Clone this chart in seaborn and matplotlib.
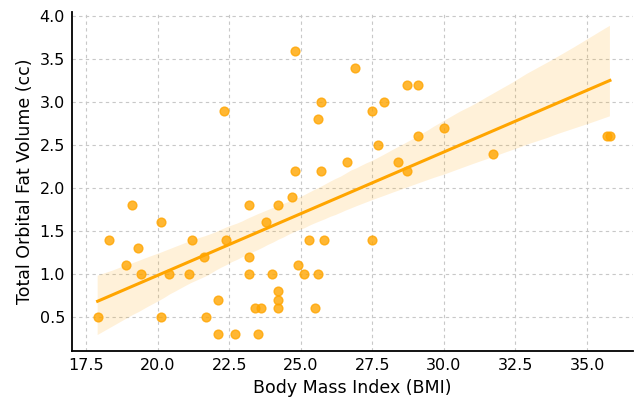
import numpy as np
import pandas as pd
import matplotlib
matplotlib.use("Agg")
import matplotlib.pyplot as plt
import seaborn as sns

# BMI vs total orbital fat volume
bmi = [17.9, 18.3, 19.1, 18.9, 19.3, 19.4, 20.1, 20.1, 20.4, 21.2,
       21.1, 21.6, 22.4, 22.1, 21.7, 22.1, 22.7, 23.2, 23.2, 23.2,
       23.4, 23.6, 23.5, 22.3, 24.8, 26.9, 28.7, 29.1, 25.7, 25.6,
       27.5, 27.9, 27.7, 29.1, 24.8, 25.7, 26.6, 28.4, 28.7, 24.2,
       24.7, 23.8, 25.3, 25.8, 27.5, 24.0, 24.9, 25.1, 25.6, 24.2,
       24.2, 24.2, 25.5, 30.0, 31.7, 35.7, 35.8]
fat_volume = [0.5, 1.4, 1.8, 1.1, 1.3, 1.0, 1.6, 0.5, 1.0, 1.4,
              1.0, 1.2, 1.4, 0.7, 0.5, 0.3, 0.3, 1.8, 1.2, 1.0,
              0.6, 0.6, 0.3, 2.9, 3.6, 3.4, 3.2, 3.2, 3.0, 2.8,
              2.9, 3.0, 2.5, 2.6, 2.2, 2.2, 2.3, 2.3, 2.2, 1.8,
              1.9, 1.6, 1.4, 1.4, 1.4, 1.0, 1.1, 1.0, 1.0, 0.8,
              0.7, 0.6, 0.6, 2.7, 2.4, 2.6, 2.6]

x_ticks = [17.5, 20.0, 22.5, 25.0, 27.5, 30.0, 32.5, 35.0]
y_ticks = [0.5, 1.0, 1.5, 2.0, 2.5, 3.0, 3.5, 4.0]

df = pd.DataFrame({"bmi": bmi, "fat": fat_volume})

fig = plt.figure(figsize=(6.36, 3.99), dpi=100)
ax = fig.add_axes([0.113, 0.12, 0.882, 0.85])

sns.regplot(data=df, x="bmi", y="fat", color="orange", ax=ax,
            scatter_kws={"s": 40}, line_kws={"linewidth": 2.2}, seed=3)

ax.set_xlim(17.0, 36.6)
ax.set_ylim(0.1, 4.05)
ax.set_xticks(x_ticks)
ax.set_yticks(y_ticks)
ax.set_xticklabels([f"{t:.1f}" for t in x_ticks])
ax.set_yticklabels([f"{t:.1f}" for t in y_ticks])
ax.tick_params(labelsize=11.5, length=0, pad=5)
ax.grid(True, linestyle=(0, (3, 3)), color="#c8c8c8", linewidth=0.8)
ax.set_axisbelow(True)
for side in ["top", "right"]:
    ax.spines[side].set_visible(False)
for side in ["left", "bottom"]:
    ax.spines[side].set_linewidth(1.3)
ax.set_xlabel("Body Mass Index (BMI)", fontsize=12.5)
ax.set_ylabel("Total Orbital Fat Volume (cc)", fontsize=12.5)

fig.savefig("out.png", dpi=100)
